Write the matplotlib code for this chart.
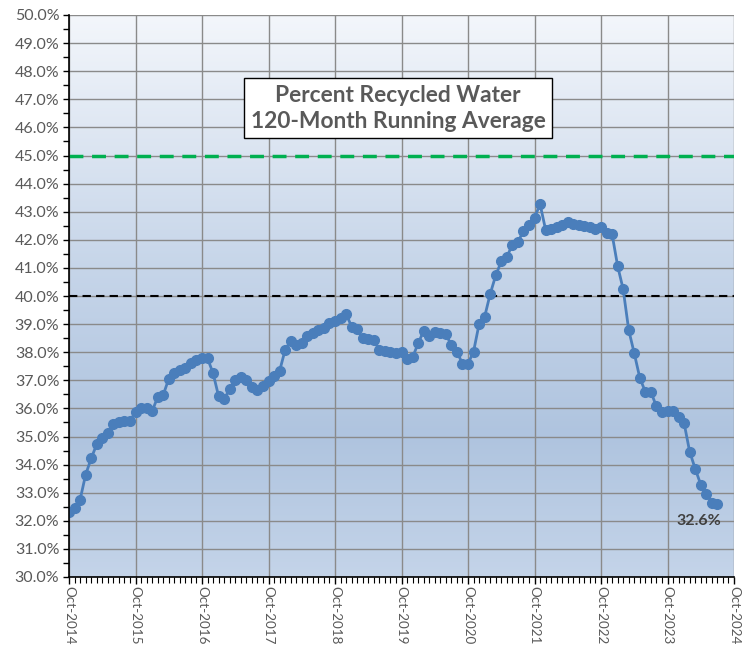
import numpy as np
import matplotlib
matplotlib.use("Agg")
import matplotlib.pyplot as plt
from matplotlib.colors import LinearSegmentedColormap
from matplotlib.ticker import FuncFormatter, MultipleLocator

# ---- data (monthly, Oct-2014 .. Jul-2024) ----
pct_recycled = [
    32.30, 32.46, 32.75, 33.64, 34.22, 34.72, 34.95, 35.13, 35.45, 35.50, 35.56, 35.56,
    35.86, 36.01, 36.02, 35.90, 36.40, 36.48, 37.05, 37.25, 37.35, 37.44, 37.63, 37.74,
    37.78, 37.78, 37.25, 36.43, 36.33, 36.69, 37.02, 37.10, 37.02, 36.76, 36.66, 36.80,
    36.96, 37.16, 37.33, 38.08, 38.40, 38.26, 38.32, 38.58, 38.70, 38.79, 38.87, 39.05,
    39.11, 39.20, 39.36, 38.91, 38.83, 38.49, 38.47, 38.43, 38.08, 38.05, 37.99, 37.96,
    38.02, 37.77, 37.82, 38.31, 38.76, 38.59, 38.72, 38.67, 38.63, 38.26, 38.02, 37.59,
    37.59, 38.02, 39.00, 39.26, 40.07, 40.73, 41.23, 41.39, 41.82, 41.92, 42.31, 42.53,
    42.78, 43.27, 42.36, 42.38, 42.45, 42.52, 42.63, 42.58, 42.52, 42.49, 42.46, 42.40,
    42.44, 42.25, 42.20, 41.07, 40.24, 38.79, 37.96, 37.09, 36.59, 36.59, 36.07, 35.87,
    35.91, 35.91, 35.69, 35.47, 34.46, 33.85, 33.29, 32.96, 32.65, 32.59,
]
year_labels = ["Oct-2014", "Oct-2015", "Oct-2016", "Oct-2017", "Oct-2018", "Oct-2019",
               "Oct-2020", "Oct-2021", "Oct-2022", "Oct-2023", "Oct-2024"]
goal_level = 45.0
ref_level = 40.0
title_text = "Percent Recycled Water\n120-Month Running Average"
last_label = "32.6%"

months = np.arange(len(pct_recycled))
grey_text = "#595959"

fig = plt.figure(figsize=(7.44, 6.46), dpi=100)
ax = fig.add_axes([69 / 744, 1 - 577 / 646, 665 / 744, 562 / 646])

# background gradient (light at top, darker blue lower down)
bg = LinearSegmentedColormap.from_list(
    "bg", [(0.0, "#c4d4e9"), (0.25, "#afc4df"), (0.55, "#c6d5e9"), (1.0, "#f3f6fb")]
)
grad = np.linspace(0, 1, 256).reshape(-1, 1)
ax.imshow(grad, cmap=bg, origin="lower", aspect="auto",
          extent=[0, 120, 30, 50], zorder=0)

ax.set_xlim(0, 120)
ax.set_ylim(30, 50)

# grid
ax.yaxis.set_major_locator(MultipleLocator(1))
ax.yaxis.set_minor_locator(MultipleLocator(0.5))
ax.set_xticks(np.arange(0, 121, 12))
ax.set_xticks(np.arange(0, 121, 1), minor=True)
ax.grid(True, which="major", color="#8a8a8a", linewidth=1.0, zorder=1)

# reference lines
ax.axhline(goal_level, color="#00b050", linewidth=2.5, linestyle=(0, (4, 2.5)), zorder=2)
ax.axhline(ref_level, color="black", linewidth=1.5, linestyle=(0, (4, 2.5)), zorder=2)

# series
ax.plot(months, pct_recycled, color="#4a7ebb", linewidth=2, marker="o",
        markersize=7, markerfacecolor="#4a7ebb", markeredgecolor="#4a7ebb", zorder=3)

ax.annotate(last_label, (months[-1], pct_recycled[-1]), xytext=(-19, -17),
            textcoords="offset pixels",
            ha="center", va="center", fontsize=11.5, fontweight="bold",
            color="#404040", family="Lato", zorder=4)

# title box
ax.text(0.495, 0.834, title_text, transform=ax.transAxes, ha="center", va="center",
        fontsize=16.4, fontweight="bold", color=grey_text, family="Lato",
        linespacing=1.3,
        bbox=dict(boxstyle="square,pad=0.28", facecolor="white", edgecolor="black",
                  linewidth=1.0), zorder=5)

# axes styling
ax.yaxis.set_major_formatter(FuncFormatter(lambda v, p: f"{v:.1f}%"))
ax.set_xticklabels(year_labels, rotation=270, ha="center", va="top")
for lab in ax.get_yticklabels():
    lab.set_color(grey_text)
    lab.set_fontsize(11.5)
    lab.set_family("Lato")
for lab in ax.get_xticklabels():
    lab.set_color(grey_text)
    lab.set_fontsize(9.7)
    lab.set_family("Lato")

ax.tick_params(axis="y", which="major", direction="out", length=4, width=1, pad=3)
ax.tick_params(axis="y", which="minor", direction="out", length=4, width=1)
ax.tick_params(axis="x", which="major", direction="out", length=5, width=1, pad=1.5)
ax.tick_params(axis="x", which="minor", direction="out", length=4, width=0.8)

for side in ["top", "right"]:
    ax.spines[side].set_visible(False)
for side in ["left", "bottom"]:
    ax.spines[side].set_color("black")
    ax.spines[side].set_linewidth(1.2)
    ax.spines[side].set_zorder(6)

fig.savefig("out.png", dpi=100)
